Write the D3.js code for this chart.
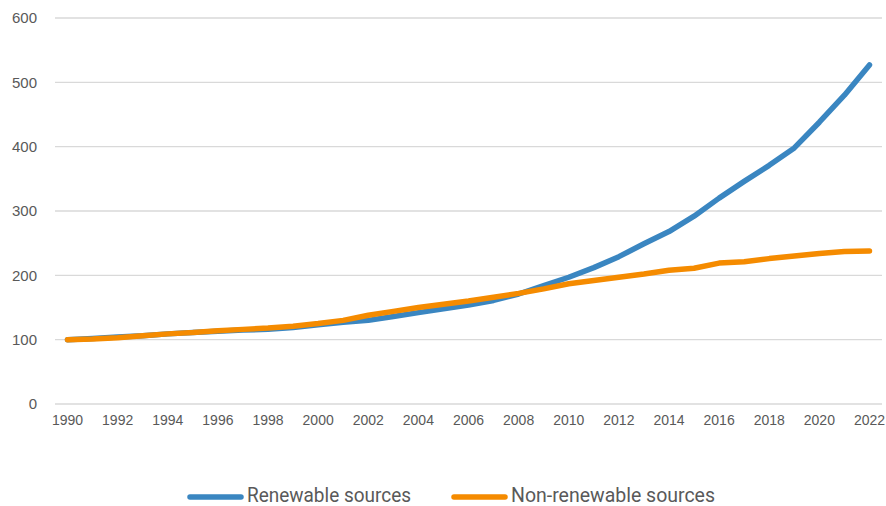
<!DOCTYPE html>
<html><head><meta charset="utf-8">
<script src="https://cdn.jsdelivr.net/npm/d3@7"></script>
<style>body{margin:0;background:#fff;} svg{display:block;}</style>
</head><body>
<svg id="c" width="886" height="506"></svg>
<script>
const years = d3.range(1990, 2023);
const renewable = [100,102,104,106,109,111,113,115,116,119,123,127,130,136,142,148,154,161,171,184,197,212,229,249,268,292,320,346,371,398,438,480,527];
const nonRenewable = [100,101,103,106,109,111,114,116,118,121,125,130,138,144,150,155,160,166,172,179,187,192,197,202,208,211,219,221,226,230,234,237,238];
const yTicks = [0,100,200,300,400,500,600];
const seriesNames = ["Renewable sources","Non-renewable sources"];
const colors = ["#3a86c1","#f58b00"];

const svg = d3.select("#c");
const x = d3.scaleBand().domain(years).range([55, 882]);
const y = d3.scaleLinear().domain([0, 600]).range([404, 18]);
const cx = d => x(d) + x.bandwidth()/2;

// gridlines
svg.append("g").selectAll("line").data(yTicks).join("line")
  .attr("x1", 55).attr("x2", 882)
  .attr("y1", d => y(d)).attr("y2", d => y(d))
  .attr("stroke", "#d9d9d9").attr("stroke-width", 1.3);

// y labels
const yAxis = svg.append("g").attr("transform", "translate(37,0)")
  .call(d3.axisLeft(y).tickValues(yTicks).tickSize(0).tickPadding(0));
yAxis.select(".domain").remove();
yAxis.selectAll("text").attr("font-family","Liberation Sans, Arial, sans-serif")
  .attr("font-size", 15).attr("fill", "#595959");

// x labels
const xAxis = svg.append("g").attr("transform", "translate(0,415)")
  .call(d3.axisBottom(x).tickValues(years.filter(d => d % 2 === 0)).tickSize(0).tickPadding(0));
xAxis.select(".domain").remove();
xAxis.selectAll("text").attr("font-family","Liberation Sans, Arial, sans-serif")
  .attr("font-size", 14).attr("fill", "#595959");

const line = d3.line().x((d,i) => cx(years[i])).y(d => y(d));
[renewable, nonRenewable].forEach((s, i) => {
  svg.append("path").datum(s).attr("d", line)
    .attr("fill","none").attr("stroke", colors[i]).attr("stroke-width", 5.5)
    .attr("stroke-linecap","round").attr("stroke-linejoin","round");
});

// legend
const legX = [190, 454];
const legW = [164, 204];
seriesNames.forEach((n, i) => {
  const g = svg.append("g").attr("transform", `translate(${legX[i]},497)`);
  g.append("line").attr("x1", 0).attr("x2", 51).attr("stroke", colors[i])
    .attr("stroke-width", 5.5).attr("stroke-linecap","round");
  g.append("text").attr("x", 57).attr("y", 5).text(n)
    .attr("textLength", legW[i]).attr("lengthAdjust", "spacingAndGlyphs")
    .attr("font-family","Roboto, sans-serif").attr("font-size", 20).attr("fill","#595959");
});
</script>
</body></html>
